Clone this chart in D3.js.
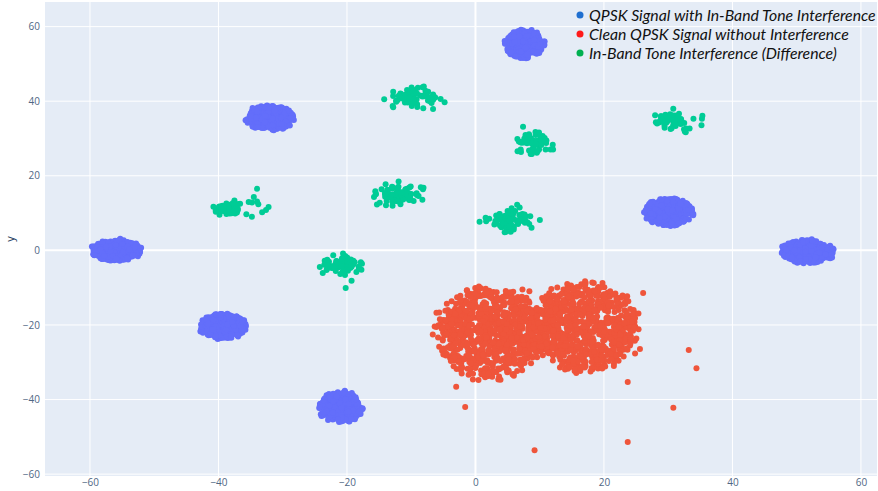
<!DOCTYPE html>
<html>
<head>
<meta charset="utf-8">
<script src="https://cdn.jsdelivr.net/npm/d3@7"></script>
<style>
  body { margin: 0; background: #fff; }
  svg { display: block; }
</style>
</head>
<body>
<svg id="chart"></svg>
<script>
var width = 878;
var height = 491;
var margin = { top: 2, right: 1, bottom: 15, left: 45 };

var xTicks = [-60, -40, -20, 0, 20, 40, 60];
var yTicks = [-60, -40, -20, 0, 20, 40, 60];

var seriesNames = [
  "QPSK Signal with In-Band Tone Interference",
  "Clean QPSK Signal without Interference",
  "In-Band Tone Interference (Difference)"
];
var pointColors = ["#636efa", "#ef553b", "#00cc96"];
var legendColors = ["#1f6fd0", "#ff1a1a", "#00b050"];

// cluster centres and spreads: [cx, cy, rx, ry, count]
var interferedClusters = [
  [7.6, 55.3, 3.0, 3.7, 320],
  [-31.9, 35.5, 3.7, 3.3, 330],
  [-55.9, 0.0, 4.0, 2.8, 330],
  [-39.4, -20.3, 3.6, 3.3, 320],
  [-21.0, -42.0, 3.3, 4.0, 320],
  [30.0, 10.3, 3.8, 3.6, 330],
  [51.7, -0.4, 4.0, 3.1, 330]
];
var cleanLobes = [
  [2.4, -22.2, 8.2, 11.8, 820],
  [17.0, -20.6, 8.3, 11.4, 800]
];
var cleanOutliers = [
  [-3.0, -36.6], [-1.6, -42.0], [9.2, -53.6], [23.7, -51.4], [23.7, -35.3],
  [30.8, -42.2], [34.4, -31.6], [33.2, -26.7], [26.1, -11.4]
];
// tone clusters: [cx, cy, sdx, sdy, count]
var toneClusters = [
  [-9.6, 41.1, 1.7, 1.4, 75],
  [8.8, 29.0, 1.4, 1.6, 65],
  [30.4, 34.4, 1.6, 1.3, 65],
  [-12.1, 14.8, 1.7, 1.5, 75],
  [-38.3, 11.2, 1.3, 0.9, 60],
  [5.4, 8.1, 1.7, 1.5, 75],
  [-21.0, -3.9, 1.5, 1.3, 70]
];
var toneTail = [
  [-33.2, 10.2], [-32.6, 10.8], [-33.8, 12.4], [-34.5, 14.3], [-34.0, 16.5],
  [-35.3, 13.0], [-32.2, 11.6], [-34.8, 9.0], [-4.8, 39.7], [-20.2, -10.1]
];

var lcg = d3.randomLcg(0.4271);
var unif = d3.randomUniform.source(lcg)(0, 1);
var norm = d3.randomNormal.source(lcg)(0, 1);

function fillEllipse(c, soft) {
  var pts = [];
  for (let i = 0; i < c[4]; i++) {
    var a = unif() * 2 * Math.PI;
    var r = Math.sqrt(unif()) * (1 + soft * norm());
    pts.push([c[0] + r * c[2] * Math.cos(a), c[1] + r * c[3] * Math.sin(a)]);
  }
  return pts;
}

var blueData = [];
interferedClusters.forEach((c) => { blueData = blueData.concat(fillEllipse(c, 0.06)); });
var redData = [];
cleanLobes.forEach((c) => { redData = redData.concat(fillEllipse(c, 0.09)); });
redData = redData.concat(cleanOutliers);
var greenData = [];
toneClusters.forEach((c) => {
  for (let i = 0; i < c[4]; i++) greenData.push([c[0] + c[2] * norm(), c[1] + c[3] * norm()]);
});
greenData = greenData.concat(toneTail);

var x = d3.scaleLinear().domain([-67.0, 62.5]).range([margin.left, width - margin.right]);
var y = d3.scaleLinear().domain([-60.5, 66.6]).range([height - margin.bottom, margin.top]);

var svg = d3.select("#chart").attr("width", width).attr("height", height);

svg.append("rect")
  .attr("x", margin.left)
  .attr("y", margin.top)
  .attr("width", width - margin.left - margin.right)
  .attr("height", height - margin.top - margin.bottom)
  .attr("fill", "#e5ecf6");

var grid = svg.append("g");
grid.selectAll(".gx")
  .data(xTicks)
  .enter()
  .append("line")
  .attr("x1", (d) => x(d)).attr("x2", (d) => x(d))
  .attr("y1", margin.top).attr("y2", height - margin.bottom)
  .attr("stroke", "#fff")
  .attr("stroke-width", (d) => (d === 0 ? 2 : 1));
grid.selectAll(".gy")
  .data(yTicks)
  .enter()
  .append("line")
  .attr("y1", (d) => y(d)).attr("y2", (d) => y(d))
  .attr("x1", margin.left).attr("x2", width - margin.right)
  .attr("stroke", "#fff")
  .attr("stroke-width", (d) => (d === 0 ? 2 : 1));

var fmt = (d) => (d < 0 ? "\u2212" + Math.abs(d) : String(d));

var xAxis = svg.append("g")
  .attr("transform", `translate(0, ${height - margin.bottom})`)
  .call(d3.axisBottom(x).tickValues(xTicks).tickFormat(fmt).tickSize(0).tickPadding(3));
var yAxis = svg.append("g")
  .attr("transform", `translate(${margin.left}, 0)`)
  .call(d3.axisLeft(y).tickValues(yTicks).tickFormat(fmt).tickSize(0).tickPadding(5));
[xAxis, yAxis].forEach((ax) => {
  ax.select(".domain").remove();
  ax.selectAll("text")
    .attr("fill", "#506784")
    .style("font-family", "'Open Sans', sans-serif")
    .style("font-size", "10px");
});

svg.append("text")
  .attr("transform", `translate(14, ${(margin.top + height - margin.bottom) / 2}) rotate(-90)`)
  .attr("text-anchor", "middle")
  .attr("fill", "#2a3f5f")
  .style("font-family", "'Open Sans', sans-serif")
  .style("font-size", "11px")
  .text("y");

var plot = svg.append("g");
[blueData, redData, greenData].forEach((data, k) => {
  plot.append("g")
    .selectAll("circle")
    .data(data)
    .enter()
    .append("circle")
    .attr("cx", (d) => x(d[0]))
    .attr("cy", (d) => y(d[1]))
    .attr("r", 3)
    .attr("fill", pointColors[k]);
});

var legend = svg.append("g").attr("transform", "translate(580, 15)");
var items = legend.selectAll(".item")
  .data(seriesNames)
  .enter()
  .append("g")
  .attr("transform", (d, i) => `translate(0, ${i * 19})`);
items.append("circle")
  .attr("r", 3.5)
  .attr("fill", (d, i) => legendColors[i]);
items.append("text")
  .attr("x", 9)
  .attr("dy", "0.35em")
  .attr("fill", "#111")
  .style("font-family", "Lato, sans-serif")
  .style("font-style", "italic")
  .style("font-size", "15.8px")
  .text((d) => d);
</script>
</body>
</html>
